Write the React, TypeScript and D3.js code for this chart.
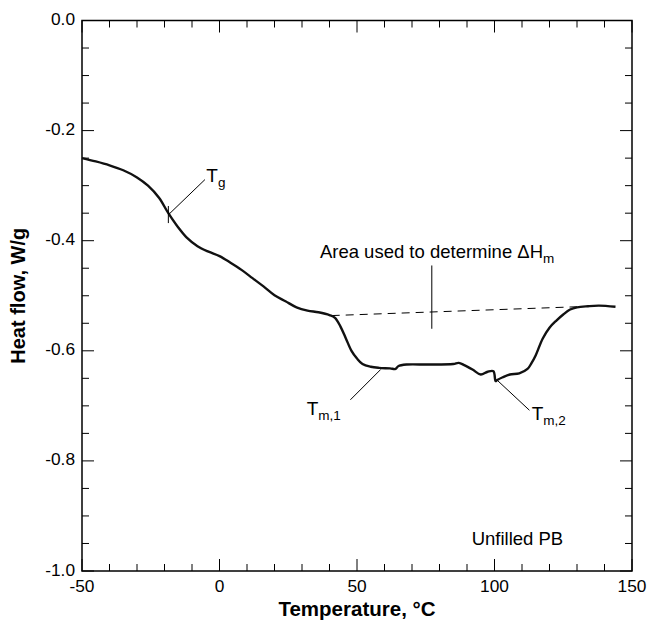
import React from "react";
import * as d3 from "d3";

const temps = [-50,-45,-40,-35,-30,-26,-22,-18.6,-15,-12,-8,-4,0,4,8,12,16,20,24,28,32,36,40,42,44,46,48,50,52,55,58,62,64,65,68,76,85,87,89,92,95,97.5,99.6,100.4,101,103,105.6,109,112,113.5,115,117.5,120,122.5,125,127.5,130,134,138,144];
const heatFlow = [-0.25,-0.256,-0.263,-0.272,-0.285,-0.3,-0.322,-0.35,-0.376,-0.394,-0.41,-0.42,-0.428,-0.44,-0.453,-0.468,-0.483,-0.499,-0.51,-0.521,-0.527,-0.53,-0.535,-0.54,-0.556,-0.578,-0.6,-0.614,-0.624,-0.629,-0.631,-0.632,-0.633,-0.628,-0.625,-0.625,-0.624,-0.622,-0.626,-0.634,-0.643,-0.638,-0.637,-0.655,-0.653,-0.648,-0.643,-0.641,-0.633,-0.622,-0.608,-0.578,-0.558,-0.545,-0.534,-0.525,-0.521,-0.519,-0.518,-0.52];

const baselineT = [40.8, 130];
const baselineV = [-0.536, -0.52];

const xTickValues = [-50, 0, 50, 100, 150];
const yTickValues = [0, -0.2, -0.4, -0.6, -0.8, -1.0];

const W = 649, H = 626;
const left = 82, right = 632, top = 20.5, bottom = 571;

export default function App() {
  const x = d3.scaleLinear().domain([-50, 150]).range([left, right]);
  const y = d3.scaleLinear().domain([0, -1]).range([top, bottom]);
  const line = d3.line<number>().x((_, i) => x(temps[i])).y((d) => y(d)).curve(d3.curveCatmullRom.alpha(0.5));

  const xMinor = d3.range(-50, 150.01, 10);
  const yMinor = d3.range(0, -1.001, -0.05);
  const isMajorX = (t: number) => Math.abs(t / 50 - Math.round(t / 50)) < 1e-6;
  const isMajorY = (t: number) => Math.abs(t / 0.2 - Math.round(t / 0.2)) < 1e-6;
  const font = "Arial, 'Liberation Sans', Helvetica, sans-serif";
  const fs = 17.3;

  return (
    <svg width={W} height={H} style={{ position: "absolute", left: 0, top: 0, background: "#fff" }} fontFamily={font}>
      <rect x={0} y={0} width={W} height={H} fill="#fff" />
      {xMinor.map((t) => {
        const len = isMajorX(t) ? 12 : 7;
        return (
          <g key={"xt" + t} stroke="#000" strokeWidth={1}>
            <line x1={x(t)} x2={x(t)} y1={bottom} y2={bottom - len} />
            <line x1={x(t)} x2={x(t)} y1={top} y2={top + len} />
          </g>
        );
      })}
      {yMinor.map((t) => {
        const len = isMajorY(t) ? 12 : 7;
        return (
          <g key={"yt" + t} stroke="#000" strokeWidth={1}>
            <line x1={left} x2={left + len} y1={y(t)} y2={y(t)} />
            <line x1={right} x2={right - len} y1={y(t)} y2={y(t)} />
          </g>
        );
      })}
      <rect x={left} y={top} width={right - left} height={bottom - top} fill="none" stroke="#000" strokeWidth={1.5} />
      {xTickValues.map((t) => (
        <text key={"xl" + t} x={x(t)} y={bottom + 21} fontSize={fs} textAnchor="middle">{t}</text>
      ))}
      {yTickValues.map((t) => (
        <text key={"yl" + t} x={left - 7} y={y(t)} fontSize={fs} textAnchor="end" dominantBaseline="middle">{t.toFixed(1)}</text>
      ))}
      <text x={(left + right) / 2} y={616} fontSize={20.5} fontWeight="bold" textAnchor="middle">Temperature, °C</text>
      <text transform={`translate(25,${(top + bottom) / 2}) rotate(-90)`} fontSize={20} fontWeight="bold" textAnchor="middle">Heat flow, W/g</text>
      <line x1={x(baselineT[0])} y1={y(baselineV[0])} x2={x(baselineT[1])} y2={y(baselineV[1])} stroke="#000" strokeWidth={1} strokeDasharray="8,6" />
      <path d={line(heatFlow) || ""} fill="none" stroke="#111" strokeWidth={2.4} strokeLinejoin="round" />
      <line x1={x(-18.6)} x2={x(-18.6)} y1={y(-0.337)} y2={y(-0.368)} stroke="#000" strokeWidth={1} />
      <line x1={x(-18.6)} y1={y(-0.353)} x2={x(-5.3)} y2={y(-0.289)} stroke="#000" strokeWidth={1} />
      <text x={x(-4.8)} y={y(-0.294)} fontSize={19}>T<tspan fontSize={13.5} dy={5}>g</tspan></text>
      <line x1={x(77.2)} x2={x(77.2)} y1={y(-0.445)} y2={y(-0.56)} stroke="#000" strokeWidth={1} />
      <text x={x(36.5)} y={y(-0.432)} fontSize={18.5}>Area used to determine ΔH<tspan fontSize={13.5} dy={5}>m</tspan></text>
      <line x1={x(58.6)} y1={y(-0.634)} x2={x(47.6)} y2={y(-0.689)} stroke="#000" strokeWidth={1} />
      <text x={x(31.7)} y={y(-0.717)} fontSize={19}>T<tspan fontSize={13.5} dy={5}>m,1</tspan></text>
      <line x1={x(101.1)} y1={y(-0.654)} x2={x(112.7)} y2={y(-0.708)} stroke="#000" strokeWidth={1} />
      <text x={x(113.5)} y={y(-0.726)} fontSize={19}>T<tspan fontSize={13.5} dy={5}>m,2</tspan></text>
      <text x={x(91.7)} y={y(-0.952)} fontSize={18.5}>Unfilled PB</text>
    </svg>
  );
}
